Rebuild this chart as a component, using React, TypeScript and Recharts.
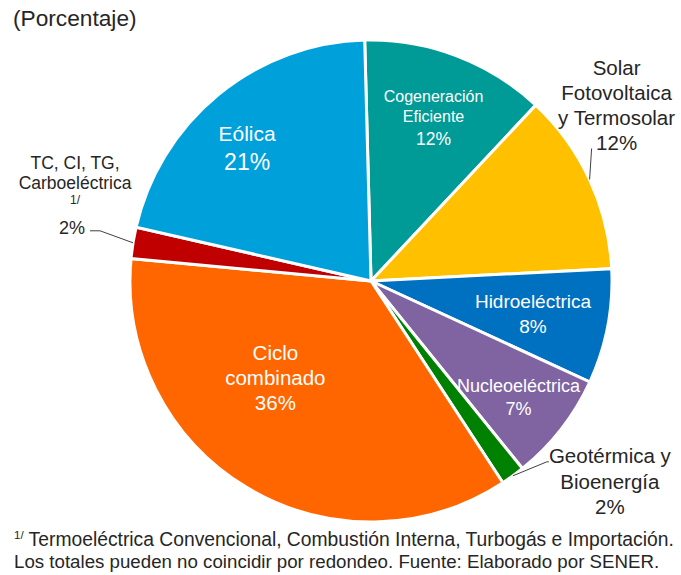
import React from 'react';
import { PieChart, Pie, Cell } from 'recharts';

// Estimated slice shares (labels show rounded values)
const categories = [
  'Cogeneración Eficiente',
  'Solar Fotovoltaica y Termosolar',
  'Hidroeléctrica',
  'Nucleoeléctrica',
  'Geotérmica y Bioenergía',
  'Ciclo combinado',
  'TC, CI, TG, Carboeléctrica 1/',
  'Eólica',
];
const shares = [12.4, 12.2, 7.7, 7.3, 1.6, 35.7, 2.1, 21.0];
const labelLines = [
  ['Cogeneración', 'Eficiente'],
  ['Solar', 'Fotovoltaica', 'y Termosolar'],
  ['Hidroeléctrica'],
  ['Nucleoeléctrica'],
  ['Geotérmica y', 'Bioenergía'],
  ['Ciclo', 'combinado'],
  ['TC, CI, TG,', 'Carboeléctrica', '1/'],
  ['Eólica'],
];
const colors = ['#009A97', '#FFC000', '#0070C0', '#8064A2', '#008000', '#FF6600', '#C00000', '#00A0DA'];

const title = '(Porcentaje)';
const footnote1 = ' Termoeléctrica Convencional, Combustión Interna, Turbogás e Importación.';
const footnote2 = 'Los totales pueden no coincidir por redondeo. Fuente: Elaborado por SENER.';

const data = categories.map((name, i) => ({ name, value: shares[i] }));

const FONT = '"Liberation Sans", Arial, sans-serif';
const DARK = '#262626';
const RAD = Math.PI / 180;

// label placement: inside labels by radius/angle shift, outside ones by offsets from the arc
type Layout =
  | { kind: 'in'; r: number; da: number; fs: number[]; dy: number[] }
  | { kind: 'out'; fs: number[]; dx: number[]; dy: number[]; leader: [number, number][] };

const LAYOUT: Layout[] = [
  { kind: 'in', r: 176, da: 0, fs: [16, 16, 17.5], dy: [-20, 0, 23] },
  { kind: 'out', fs: [20.5, 20.5, 20.5, 20.5], dx: [27, 27, 27, 27], dy: [-112, -87, -62, -37], leader: [[2, -31]] },
  { kind: 'in', r: 165, da: 0, fs: [19, 19], dy: [-11, 14] },
  { kind: 'in', r: 187, da: 0, fs: [18, 18], dy: [-10, 13] },
  { kind: 'out', fs: [20.5, 20.5, 20.5], dx: [97, 97, 97], dy: [-20, 6, 31], leader: [[34, -14], [36, -14]] },
  { kind: 'in', r: 136, da: -13.6, fs: [20.5, 20.5, 20.5], dy: [-25, 0, 25] },
  { kind: 'out', fs: [17.5, 17.5, 12, 18], dx: [-58, -58, -58, -61], dy: [-80, -60, -43, -15], leader: [[-33, -12], [-43, -12]] },
  { kind: 'in', r: 183, da: 3.3, fs: [21, 23], dy: [-13, 16] },
];

const polar = (cx: number, cy: number, r: number, a: number) => ({
  x: cx + r * Math.cos(-a * RAD),
  y: cy + r * Math.sin(-a * RAD),
});

const renderLabel = (props: any) => {
  const { cx, cy, midAngle, outerRadius, index, value } = props;
  const lay = LAYOUT[index];
  const lines = [...labelLines[index], `${Math.round(value)}%`];
  if (lay.kind === 'in') {
    const a = polar(cx, cy, lay.r, midAngle + lay.da);
    return (
      <g key={`lbl-${index}`}>
        {lines.map((t, k) => (
          <text key={k} x={a.x} y={a.y + lay.dy[k]} fill="#fff" fontSize={lay.fs[k]} fontFamily={FONT}
            textAnchor="middle" dominantBaseline="central">{t}</text>
        ))}
      </g>
    );
  }
  const p = polar(cx, cy, outerRadius, midAngle);
  const d = `M${p.x},${p.y}` + lay.leader.map(([ox, oy]) => ` L${p.x + ox},${p.y + oy}`).join('');
  return (
    <g key={`lbl-${index}`}>
      <path d={d} stroke="#404040" strokeWidth={1} fill="none" />
      {lines.map((t, k) => (
        <text key={k} x={p.x + lay.dx[k]} y={p.y + lay.dy[k]} fill={DARK} fontSize={lay.fs[k]} fontFamily={FONT}
          textAnchor="middle" dominantBaseline="central">{t}</text>
      ))}
    </g>
  );
};

export default function App() {
  return (
    <div style={{ position: 'absolute', left: 0, top: 0, width: 681, height: 575, background: '#fff' }}>
      <PieChart width={681} height={575} margin={{ top: 0, right: 0, bottom: 0, left: 0 }}>
        <Pie
          data={data}
          dataKey="value"
          nameKey="name"
          cx={371}
          cy={281}
          outerRadius={241}
          startAngle={91.5}
          endAngle={-268.5}
          stroke="#fff"
          strokeWidth={3}
          label={renderLabel}
          labelLine={false}
          isAnimationActive={false}
        >
          {data.map((d, i) => (
            <Cell key={d.name} fill={colors[i]} />
          ))}
        </Pie>
      </PieChart>
      <svg width={681} height={575} style={{ position: 'absolute', left: 0, top: 0, pointerEvents: 'none' }}>
        <text x={13} y={26} fontSize={22.7} fontFamily={FONT} fill={DARK}>{title}</text>
        <text x={14} y={546} fontSize={19.3} fontFamily={FONT} fill={DARK}>
          <tspan fontSize={11.5} dy={-7}>1/</tspan>
          <tspan dy={7}>{footnote1}</tspan>
        </text>
        <text x={14} y={568} fontSize={18.7} fontFamily={FONT} fill={DARK}>{footnote2}</text>
      </svg>
    </div>
  );
}
